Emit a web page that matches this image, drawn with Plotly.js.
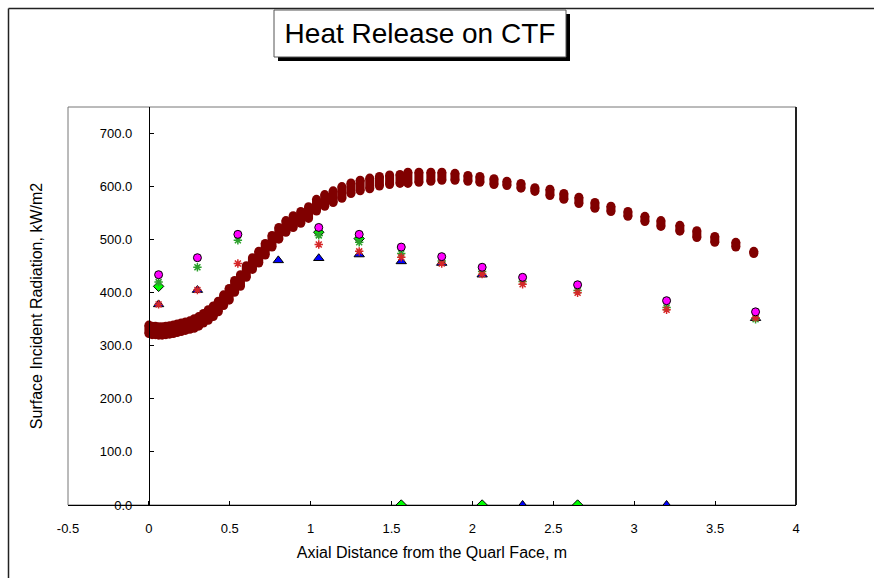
<!DOCTYPE html>
<html>
<head>
<meta charset="utf-8">
<script src="https://cdn.plot.ly/plotly-3.0.1.min.js"></script>
<style>html,body{margin:0;padding:0;background:#fff;}#chart{width:874px;height:578px;}</style>
</head>
<body>
<div id="chart"></div>
<script>
// CFD profile: each x has an upper and lower value (the marks merge into capsules)
const cfdX = [0.000,0.020,0.040,0.061,0.082,0.105,0.128,0.151,0.175,0.200,0.226,0.253,0.280,0.308,0.337,0.367,0.398,0.429,0.462,0.496,0.530,0.566,0.602,0.640,0.679,0.719,0.761,0.803,0.847,0.892,0.939,0.987,1.036,1.087,1.139,1.193,1.249,1.306,1.365,1.425,1.488,
  1.552,1.601,1.669,1.743,1.811,1.892,1.972,2.046,2.133,2.213,2.300,2.386,2.479,2.565,2.658,2.757,2.856,2.961,3.066,3.165,3.282,3.387,3.498,3.628,3.739];
const cfdHigh = [339,337,337,336,336,337,338,339,341,343,345,347,351,355,361,368,375,384,396,408,423,434,451,466,478,493,508,523,536,545,553,562,576,585,592,600,607,612,616,619,622,
  623,627,627,627,627,625,621,619,615,610,606,598,595,587,580,570,563,553,544,536,527,517,506,495,478];
const cfdLow = [323,321,321,320,320,321,322,323,325,327,329,331,333,337,343,348,355,364,376,386,401,412,429,444,456,471,486,501,514,523,531,540,554,563,570,578,587,592,596,601,604,
  606,606,608,610,612,612,610,608,604,602,597,591,583,576,568,559,553,544,534,525,516,504,495,486,474];

// Measured points
const expX = [0.06,0.30,0.55,0.80,1.05,1.30,1.56,1.81,2.06,2.31,2.65,3.20,3.75];
const magentaY = [434,466,510,null,523,510,486,468,448,429,415,385,364];
const greenY   = [412,null,null,null,514,502,0,null,0,null,0,null,null];
const blueY    = [378,405,null,461,465,472,459,456,434,0,null,0,352];
const redY     = [420,448,499,null,508,495,474,460,440,421,404,372,350];
const oliveY   = [378,405,455,null,491,478,467,455,435,416,400,368,353];

const xTickVals = [-0.5,0,0.5,1,1.5,2,2.5,3,3.5,4];
const xTickText = ["-0.5","0","0.5","1","1.5","2","2.5","3","3.5","4"];
const yTickVals = [0,100,200,300,400,500,600,700];
const yTickText = ["0.0","100.0","200.0","300.0","400.0","500.0","600.0","700.0"];

const F = '"Liberation Sans", Arial, sans-serif';
const MAROON = '#800000';

const cfdSpan = cfdHigh.map((v, i) => v - cfdLow[i]);
const cfdZero = cfdHigh.map(() => 0);

const traces = [
  {x: expX, y: blueY, type:'scatter', mode:'markers', name:'blue',
   marker:{symbol:'triangle-up', size:9, color:'#0000FF', line:{color:'#000', width:1}}},
  {x: expX, y: greenY, type:'scatter', mode:'markers', name:'green',
   marker:{symbol:'diamond', size:8, color:'#00FF00', line:{color:'#000', width:1}}},
  {x: expX, y: redY, type:'scatter', mode:'markers', name:'red',
   marker:{symbol:'asterisk-open', size:7, line:{color:'#CC0000', width:1.5}}},
  {x: expX, y: oliveY, type:'scatter', mode:'markers', name:'olive',
   marker:{symbol:'asterisk-open', size:7, line:{color:'#333300', width:1.5}}},
  {x: expX, y: magentaY, type:'scatter', mode:'markers', name:'magenta',
   marker:{symbol:'circle', size:8, color:'#FF00FF', line:{color:'#000', width:1}}},
  {x: cfdX, y: cfdLow, type:'scatter', mode:'markers', name:'CFD low',
   marker:{symbol:'circle', size:9, color:MAROON, line:{width:0}},
   error_y:{type:'data', symmetric:false, array:cfdSpan, arrayminus:cfdZero, thickness:9, width:0, color:MAROON}},
  {x: cfdX, y: cfdHigh, type:'scatter', mode:'markers', name:'CFD high',
   marker:{symbol:'circle', size:9, color:MAROON, line:{width:0}}}
];

const L=68, R=796, T=107, B=505;
const px = v => (v - L)/(R - L);
const py = v => (B - v)/(B - T);

const layout = {
  width:874, height:578,
  margin:{l:L, r:874-R, t:T, b:578-B},
  paper_bgcolor:'#fff', plot_bgcolor:'#fff',
  showlegend:false, hovermode:false,
  font:{family:F, size:13, color:'#000'},
  title:{text:'Heat Release on CTF', font:{family:F, size:28, color:'#000'},
    xref:'paper', x:px(420), xanchor:'center', yref:'container', y:1-33/578, yanchor:'middle'},
  xaxis:{range:[-0.5,4], tickvals:xTickVals, ticktext:xTickText, ticks:'inside', ticklen:4,
    tickcolor:'#000', showline:true, linecolor:'#000', linewidth:1, showgrid:false, zeroline:false,
    ticklabelstandoff:11, tickfont:{family:F, size:13},
    title:{text:'Axial Distance from the Quarl Face, m', font:{family:F, size:16}, standoff:12}},
  yaxis:{range:[0,750], tickvals:yTickVals, ticktext:yTickText, ticks:'inside', ticklen:4,
    tickcolor:'#000', showline:true, linecolor:'#000', linewidth:1, showgrid:false, zeroline:false,
    anchor:'free', position:(148.9-L)/(R-L), ticklabelstandoff:14, tickfont:{family:F, size:13},
    title:{text:'Surface Incident Radiation, kW/m2', font:{family:F, size:16}, standoff:52}},
  shapes:[
    // outer chart border
    {type:'line', xref:'paper', yref:'paper', x0:px(8.5), x1:px(8.5), y0:py(600), y1:py(8.5), line:{color:'#222', width:1.5}},
    {type:'line', xref:'paper', yref:'paper', x0:px(8.5), x1:px(900), y0:py(8.5), y1:py(8.5), line:{color:'#222', width:1.5}},
    // plot area frame
    {type:'rect', xref:'paper', yref:'paper', x0:0, x1:1, y0:0, y1:1, line:{color:'#777', width:1}, layer:'below'},
    {type:'line', xref:'paper', yref:'paper', x0:1, x1:1, y0:0, y1:1, line:{color:'#222', width:2}},
    // title box shadow and box
    {type:'rect', xref:'paper', yref:'paper', x0:px(278), x1:px(570), y0:py(61), y1:py(14), fillcolor:'#000', line:{width:0}},
    {type:'rect', xref:'paper', yref:'paper', x0:px(274), x1:px(566), y0:py(57), y1:py(10), fillcolor:'#fff', line:{color:'#555', width:1}}
  ]
};

Plotly.newPlot('chart', traces, layout, {displayModeBar:false, staticPlot:true});
</script>
</body>
</html>
